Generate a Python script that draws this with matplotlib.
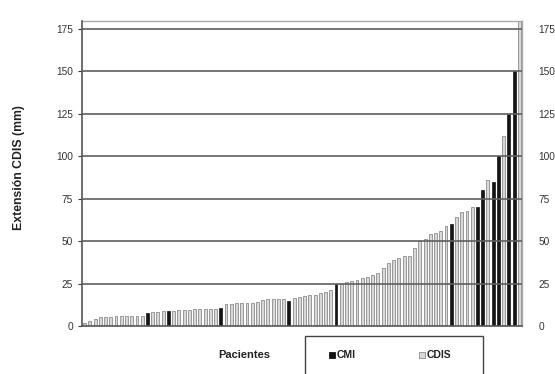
import matplotlib
matplotlib.use("Agg")
import matplotlib.pyplot as plt
from matplotlib.patches import Rectangle

# Data: one bar per patient, sorted by extent
values = [2, 3, 4, 5.5, 5.5, 5.5, 6, 6, 6, 6, 6, 6,
          7.5, 8.5, 8.5, 9, 9,
          9, 9.5, 9.5, 9.5, 10, 10, 10, 10, 10, 10.5,
          13, 13, 13.5, 13.5, 13.5, 13.5, 14,
          15.5, 16, 16, 16, 16, 15,
          16.5, 17, 17.5, 18, 18.5, 19.5, 20, 21, 24.5,
          25, 26, 26.5, 27, 28, 29, 30, 31, 34, 37, 39, 40,
          41, 41, 46, 50, 51, 54, 55, 56, 59, 60,
          64, 67, 68, 70, 70, 80, 86, 85, 100, 112, 125, 150, 185]
types = ["CDIS"] * len(values)
cmi_idx = [12, 16, 26, 39, 48, 70, 75, 76, 78, 79, 81, 82]
for k in cmi_idx:
    types[k] = "CMI"
yticks = [0, 25, 50, 75, 100, 125, 150, 175]
ylabel = "Extensión CDIS (mm)"
xlabel = "Pacientes"
legend_labels = ["CMI", "CDIS"]

CMI_FACE, CMI_EDGE = "#141414", "#141414"
CDIS_FACE, CDIS_EDGE = "#d8d8d8", "#8c8c8c"

plt.rcParams['font.family'] = ['Liberation Sans', 'DejaVu Sans']

fig = plt.figure(figsize=(5.55, 3.74), dpi=100)
ax = fig.add_axes([0.1477, 0.1283, 0.7928, 0.8156])

x = list(range(len(values)))
for xi, v, t in zip(x, values, types):
    if t == "CMI":
        ax.bar(xi, v, width=0.55, color=CMI_FACE, edgecolor=CMI_EDGE,
               linewidth=0.5, zorder=2)
    else:
        ax.bar(xi, v, width=0.55, color=CDIS_FACE, edgecolor=CDIS_EDGE,
               linewidth=0.6, zorder=2)

ax.set_xlim(-0.5, len(values) - 0.5)
ax.set_ylim(0, 179.7)
for yv in yticks[1:]:
    ax.axhline(yv, color="#5f5f5f", linewidth=1.2, zorder=3)

ax.set_yticks(yticks)
ax.set_xticks([])
ax.tick_params(axis='y', labelsize=7.3, colors="#333333", length=3, width=0.8)
for s in ['left', 'bottom']:
    ax.spines[s].set_color("#555555")
    ax.spines[s].set_linewidth(1.2)
for s in ['top', 'right']:
    ax.spines[s].set_color("#aaaaaa")
    ax.spines[s].set_linewidth(1.0)
ax.spines['left'].set_zorder(4)
ax.spines['bottom'].set_zorder(4)

ax2 = ax.twinx()
ax2.set_ylim(ax.get_ylim())
ax2.set_yticks(yticks)
ax2.tick_params(axis='y', labelsize=7.3, colors="#333333", length=0, pad=12)
for s in ax2.spines.values():
    s.set_visible(False)

fig.text(0.034, 0.553, ylabel, rotation=90, ha='center', va='center',
         fontsize=8.8, fontweight='bold', color="#222222")
fig.text(0.44, 0.05, xlabel, ha='center', va='center',
         fontsize=8, fontweight='bold', color="#222222")

# Legend box (bottom, partly cut off like the original)
W, H = 555.0, 374.0
fig.patches.append(Rectangle((305 / W, -0.05), 178 / W, (374 - 336) / H + 0.05,
                             transform=fig.transFigure, facecolor="white",
                             edgecolor="#444444", linewidth=1.0))
ly = (H - 355) / H
entries = [(329, CMI_FACE, CMI_EDGE, legend_labels[0]),
           (419, CDIS_FACE, CDIS_EDGE, legend_labels[1])]
for px, fc, ec, lab in entries:
    fig.patches.append(Rectangle((px / W, ly - 3 / H), 6 / W, 6 / H,
                                 transform=fig.transFigure, facecolor=fc,
                                 edgecolor=ec, linewidth=0.6))
    fig.text((px + 8) / W, ly, lab, ha='left', va='center', fontsize=7.5,
             fontweight='bold', color="#222222")

fig.savefig("out.png", dpi=100)
